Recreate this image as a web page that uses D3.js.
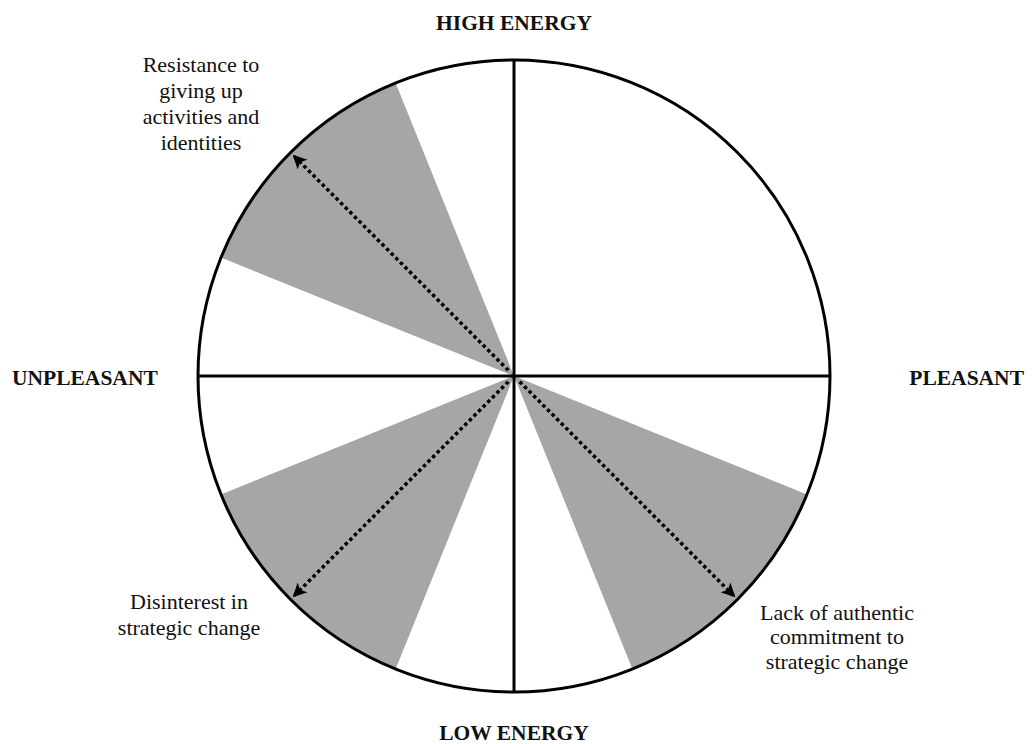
<!DOCTYPE html>
<html>
<head>
<meta charset="utf-8">
<script src="https://cdn.jsdelivr.net/npm/d3@7"></script>
<style>
  body { margin: 0; background: #fff; }
  svg { display: block; }
  text { font-family: "Liberation Serif", "Times New Roman", serif; fill: #111; }
</style>
</head>
<body>
<svg></svg>
<script>
const width = 1032;
const height = 744;

// shaded wedges: centre direction (degrees clockwise from "high energy") and half width
const wedgeCenters = [315, 225, 135];
const wedgeHalfWidth = 23;

// arrows along the wedge centres
const arrowAngles = [315, 225, 135];

// pole labels
const poles = [
  { name: "HIGH ENERGY", angle: 0 },
  { name: "PLEASANT", angle: 90 },
  { name: "LOW ENERGY", angle: 180 },
  { name: "UNPLEASANT", angle: 270 }
];

// annotation texts, one per arrow
const notes = [
  ["Resistance to", "giving up", "activities and", "identities"],
  ["Disinterest in", "strategic change"],
  ["Lack of authentic", "commitment to", "strategic change"]
];
const notePos = [[201, 72, 26], [189, 609, 26], [837, 620, 24.3]];

const cx = 514, cy = 376, r = 316;

const svg = d3.select('svg').attr('width', width).attr('height', height);
const g = svg.append('g').attr('transform', `translate(${cx},${cy})`);

const rad = d3.scaleLinear().domain([0, 360]).range([0, 2 * Math.PI]);

const arc = d3.arc().innerRadius(0).outerRadius(r);

g.selectAll('.wedge')
  .data(wedgeCenters)
  .enter().append('path')
  .attr('class', 'wedge')
  .attr('d', d => arc({ startAngle: rad(d - wedgeHalfWidth), endAngle: rad(d + wedgeHalfWidth) }))
  .style('fill', '#a6a6a6');

// axes
g.append('line').attr('x1', -r).attr('x2', r).attr('y1', 0).attr('y2', 0)
  .style('stroke', '#000').style('stroke-width', 3);
g.append('line').attr('x1', 0).attr('x2', 0).attr('y1', -r).attr('y2', r)
  .style('stroke', '#000').style('stroke-width', 3);

g.append('circle').attr('r', r)
  .style('fill', 'none').style('stroke', '#000').style('stroke-width', 3);

svg.append('defs').append('marker')
  .attr('id', 'head')
  .attr('viewBox', '0 0 10 10')
  .attr('refX', 10).attr('refY', 5)
  .attr('markerWidth', 4.5).attr('markerHeight', 4)
  .attr('markerUnits', 'strokeWidth')
  .attr('orient', 'auto')
  .append('path')
  .attr('d', 'M0,0 L10,5 L0,10 L2.5,5 Z')
  .style('fill', '#000');

const tip = r - 3;
g.selectAll('.arrow')
  .data(arrowAngles)
  .enter().append('line')
  .attr('class', 'arrow')
  .attr('x1', d => 8 * Math.sin(rad(d)))
  .attr('y1', d => -8 * Math.cos(rad(d)))
  .attr('x2', d => tip * Math.sin(rad(d)))
  .attr('y2', d => -tip * Math.cos(rad(d)))
  .style('stroke', '#000')
  .style('stroke-width', 3.5)
  .style('stroke-dasharray', '3.5,3')
  .attr('marker-end', 'url(#head)');

// pole labels
const labelPos = {
  0: [cx, 30, 'middle'],
  90: [1024, 385, 'end'],
  180: [cx, 740, 'middle'],
  270: [12, 385, 'start']
};
svg.selectAll('.pole')
  .data(poles)
  .enter().append('text')
  .attr('class', 'pole')
  .attr('x', d => labelPos[d.angle][0])
  .attr('y', d => labelPos[d.angle][1])
  .attr('text-anchor', d => labelPos[d.angle][2])
  .style('font-weight', 'bold')
  .style('font-size', '21.5px')
  .text(d => d.name);

notes.forEach((lines, i) => {
  const t = svg.append('text')
    .attr('text-anchor', 'middle')
    .style('font-size', '22px');
  lines.forEach((s, j) => {
    t.append('tspan')
      .attr('x', notePos[i][0])
      .attr('y', notePos[i][1] + j * notePos[i][2])
      .text(s);
  });
});
</script>
</body>
</html>
